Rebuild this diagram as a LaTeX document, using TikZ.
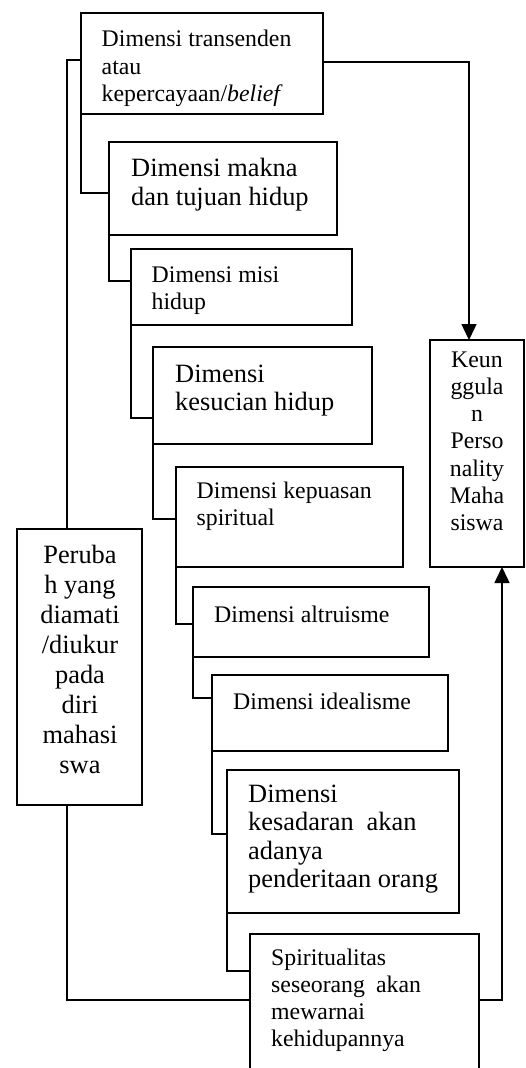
\documentclass[tikz,border=0pt]{standalone}
\usepackage{fontspec}
\setmainfont{Liberation Serif}
\usetikzlibrary{arrows.meta}
\begin{document}
\begin{tikzpicture}[x=1pt,y=-1pt,
  box/.style={draw, line width=1.5pt, anchor=north west, inner sep=0pt, outer sep=0pt},
  wire/.style={line width=1.5pt},
  arr/.style={wire, -{Triangle[width=15pt,length=16pt]}},
  sm/.style={font=\fontsize{23.8}{27.3}\selectfont, inner sep=0pt, align=left, anchor=base west},
  lg/.style={font=\fontsize{26.4}{28.5}\selectfont, inner sep=0pt, align=left, anchor=base west},
]
\useasboundingbox (0,0) rectangle (525,1068);

% boxes of the chain of dimensions
\node[box, minimum width=242, minimum height=101] (b1) at (81,13) {};
\node[box, minimum width=228, minimum height=93]  (b2) at (109,142) {};
\node[box, minimum width=221, minimum height=76]  (b3) at (131,249) {};
\node[box, minimum width=219, minimum height=97]  (b4) at (153,347) {};
\node[box, minimum width=227, minimum height=100] (b5) at (176,467) {};
\node[box, minimum width=236, minimum height=70]  (b6) at (193,587) {};
\node[box, minimum width=236, minimum height=76]  (b7) at (212,675) {};
\node[box, minimum width=232, minimum height=143] (b8) at (227,770) {};
\node[box, minimum width=229, minimum height=150] (b9) at (250,934) {};
% outcome and measurement boxes
\node[box, minimum width=94,  minimum height=227] (kp) at (430,340) {};
\node[box, minimum width=125, minimum height=276] (per) at (17,529) {};

% texts (anchored at the baseline of their last line)
\node[sm] (t1) at (101.5,101.3) {Dimensi transenden\\atau\\kepercayaan/\textit{belief}};
\node[lg] (t2) at (131,205.2) {Dimensi makna\\dan tujuan hidup};
\node[sm] (t3) at (151.5,309.3) {Dimensi misi\\hidup};
\node[lg] (t4) at (175,410.5) {Dimensi\\kesucian hidup};
\node[sm] (t5) at (196.5,525.3) {Dimensi kepuasan\\spiritual};
\node[sm] (t6) at (214,622) {Dimensi altruisme};
\node[sm] (t7) at (233,709) {Dimensi idealisme};
\node[lg] (t8) at (248,887.5) {Dimensi\\kesadaran\hspace{13pt}akan\\adanya\\penderitaan orang};
\node[sm] (t9) at (271,1046.9) {Spiritualitas\\seseorang\hspace{11pt}akan\\mewarnai\\kehidupannya};
\node[sm, align=center, anchor=base] (t10) at (477,530.8) {Keun\\ggula\\n\\Perso\\nality\\Maha\\siswa};
\node[lg, font=\fontsize{26.4}{30}\selectfont, align=center, anchor=base] (t11) at (80,773)
  {Peruba\\h yang\\diamati\\/diukur\\pada\\diri\\mahasi\\swa};

% step connectors
\draw[wire] (b1.south west) |- (b2.west |- 0,193);
\draw[wire] (b2.south west) |- (b3.west |- 0,281);
\draw[wire] (b3.south west) |- (b4.west |- 0,418);
\draw[wire] (b4.south west) |- (b5.west |- 0,519);
\draw[wire] (b5.south west) |- (b6.west |- 0,624);
\draw[wire] (b6.south west) |- (b7.west |- 0,698);
\draw[wire] (b7.south west) |- (b8.west |- 0,834);
\draw[wire] (b8.south west) |- (b9.west |- 0,971);

% left spine through the measurement box
\draw[wire] (b1.west |- 0,60) -| (per.north -| 67,0);
\draw[wire] (per.south -| 67,0) |- (b9.west |- 0,1000);

% arrows into the outcome box
\draw[arr] (b1.east |- 0,62) -| (kp.north -| 469,0);
\draw[arr] (b9.east |- 0,1000) -| (kp.south -| 502,0);
\end{tikzpicture}
\end{document}
